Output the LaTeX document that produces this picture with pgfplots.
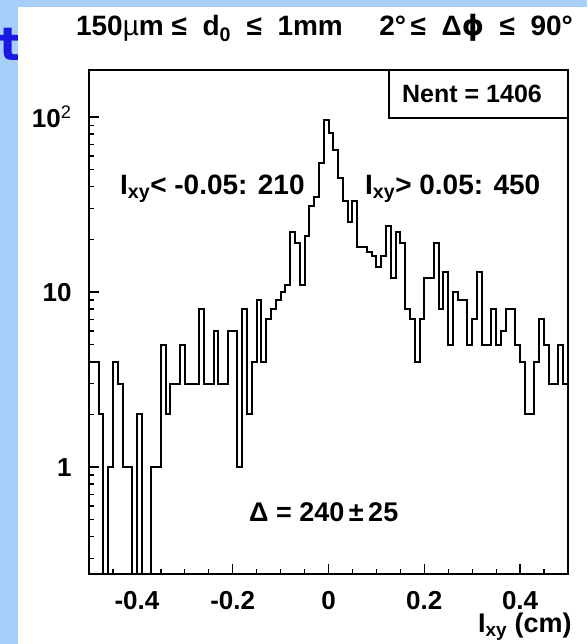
\documentclass[border=0pt]{standalone}
\usepackage{fontspec}
\setmainfont{Liberation Sans}
\newfontfamily\dejavu{DejaVu Sans}
\usepackage{pgfplots}
\pgfplotsset{compat=1.18}
\definecolor{slideblue}{RGB}{168,206,250}
\definecolor{penblue}{RGB}{25,25,225}

% l_xy histogram, 100 bins of 0.01 cm, left bin edges
% empty bins are written 0.1 so that the log axis draws them down to the floor
\pgfplotstableread{
x n
-0.50 4
-0.49 4
-0.48 2
-0.47 0.1
-0.46 1
-0.45 4
-0.44 3
-0.43 1
-0.42 1
-0.41 0.1
-0.40 2
-0.39 0.1
-0.38 0.1
-0.37 1
-0.36 1
-0.35 5
-0.34 2
-0.33 3
-0.32 3
-0.31 5
-0.30 3
-0.29 3
-0.28 3
-0.27 8
-0.26 3
-0.25 3
-0.24 6
-0.23 3
-0.22 3
-0.21 6
-0.20 6
-0.19 1
-0.18 8
-0.17 2
-0.16 4
-0.15 9
-0.14 4
-0.13 7
-0.12 8
-0.11 9
-0.10 10
-0.09 11
-0.08 22
-0.07 19
-0.06 11
-0.05 21
-0.04 31
-0.03 35
-0.02 55
-0.01 96
0.00 81
0.01 65
0.02 45
0.03 33
0.04 25
0.05 33
0.06 18
0.07 18
0.08 17
0.09 16
0.10 14
0.11 16
0.12 24
0.13 12
0.14 22
0.15 19
0.16 8
0.17 7
0.18 4
0.19 7
0.20 12
0.21 12
0.22 19
0.23 8
0.24 13
0.25 5
0.26 10
0.27 9
0.28 9
0.29 5
0.30 7
0.31 13
0.32 5
0.33 5
0.34 8
0.35 5
0.36 6
0.37 8
0.38 8
0.39 5
0.40 4
0.41 2
0.42 2
0.43 4
0.44 7
0.45 5
0.46 3
0.47 3
0.48 5
0.49 3
0.50 3
}\lxy

\begin{document}
\begin{tikzpicture}[x=1pt,y=1pt]
\useasboundingbox (0,0) rectangle (587,644);
\fill[slideblue] (0,0) rectangle (587,644);
\node[penblue, font=\dejavu\fontsize{46}{46}\selectfont\bfseries, anchor=base west, inner sep=0pt] at (-1,583) {t};
\fill[white] (18,0) rectangle (587,637);

\begin{axis}[
    at={(89pt,70pt)}, anchor=south west,
    scale only axis, width=479pt, height=504pt,
    xmin=-0.5, xmax=0.5,
    ymode=log, ymin=0.245, ymax=186,
    axis line style={line width=1.7pt},
    tick align=inside, tick pos=left,
    tick style={black, line width=1.3pt},
    major tick length=10pt, minor tick length=5pt,
    xtick={-0.4,-0.2,0,0.2,0.4},
    xticklabels={-0.4,-0.2,0,0.2,0.4},
    minor xtick={-0.45,-0.35,-0.3,-0.25,-0.15,-0.1,-0.05,0.05,0.1,0.15,0.25,0.3,0.35,0.45},
    ytick={1,10,100},
    yticklabels={1,10,10\textsuperscript{\mdseries 2}},
    minor ytick={0.3,0.4,0.5,0.6,0.7,0.8,0.9,2,3,4,5,6,7,8,9,20,30,40,50,60,70,80,90},
    ticklabel style={font=\fontsize{26}{26}\selectfont\bfseries},
    xticklabel style={yshift=-14pt},
    yticklabel style={xshift=-14pt},
]
\addplot[const plot, black, line width=2pt] table[x=x, y=n] {\lxy};
\end{axis}

% statistics box
\draw[line width=1.7pt, fill=white] (389,526) rectangle (568,574);
\node[font=\fontsize{25}{25}\selectfont\bfseries] at (472,550) {Nent = 1406};

\node[anchor=base, font=\fontsize{28}{28}\selectfont\bfseries] at (324.5,608)
  {150{\mdseries µ}m\ ≤\ \ d\textsubscript{0}\ \ ≤\ \ 1mm\hspace{1.3em}2°\,≤\ \ Δ{\dejavu ϕ}\ \ ≤\ \ 90°};
\node[anchor=base west, inner sep=0pt, font=\fontsize{28}{28}\selectfont\bfseries] at (120,449)
  {I\textsubscript{xy}< -0.05: 210};
\node[anchor=base west, inner sep=0pt, font=\fontsize{28}{28}\selectfont\bfseries] at (365,449)
  {I\textsubscript{xy}> 0.05: 450};
\node[anchor=base west, inner sep=0pt, font=\fontsize{27}{27}\selectfont\bfseries] at (249,122)
  {Δ = 240\,±\,25};
\node[anchor=base west, inner sep=0pt, font=\fontsize{27}{27}\selectfont\bfseries] at (478,11)
  {I\textsubscript{xy} (cm)};
\end{tikzpicture}
\end{document}
